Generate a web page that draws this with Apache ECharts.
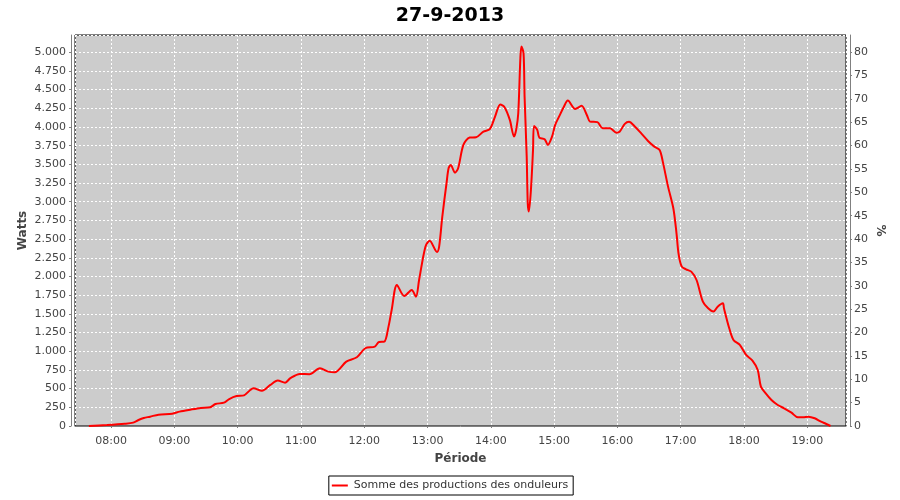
<!DOCTYPE html>
<html>
<head>
<meta charset="utf-8">
<script src="https://cdn.jsdelivr.net/npm/echarts@6/dist/echarts.min.js"></script>
<style>html,body{margin:0;padding:0;background:#fff}#c{width:900px;height:500px}</style>
</head>
<body>
<div id="c"></div>
<script>
const chartTitle = "27-9-2013";
const seriesName = "Somme des productions des onduleurs";
const times = ["07:39","07:56","08:13","08:21","08:26","08:31","08:37","08:45","08:58","09:05","09:15","09:25","09:34","09:39","09:47","09:52","09:59","10:06","10:12","10:15","10:23","10:31","10:38","10:45","10:50","10:59","11:08","11:18","11:26","11:32","11:43","11:53","12:01","12:10","12:14","12:19","12:23","12:26","12:31","12:38","12:45","12:49","12:52","12:58","13:02","13:09","13:11","13:14","13:18","13:20","13:22","13:26","13:29","13:34","13:40","13:46","13:53","13:59","14:04","14:09","14:13","14:18","14:22","14:24","14:26","14:28","14:29","14:31","14:32","14:34","14:35","14:36","14:38","14:40","14:41","14:44","14:46","14:51","14:54","14:58","15:01","15:05","15:09","15:13","15:20","15:26","15:31","15:34","15:41","15:46","15:53","15:59","16:02","16:07","16:11","16:16","16:23","16:29","16:35","16:40","16:43","16:48","16:53","16:56","16:58","17:01","17:05","17:10","17:15","17:21","17:26","17:31","17:35","17:40","17:41","17:46","17:50","17:56","18:02","18:08","18:13","18:16","18:20","18:26","18:32","18:38","18:45","18:51","18:56","19:01","19:07","19:13","19:18","19:22"];
const watts = [0,13,30,45,80,107,125,152,165,192,218,241,250,294,312,361,401,410,482,504,470,549,608,580,640,696,692,772,727,718,861,919,1040,1061,1124,1128,1329,1552,1887,1739,1820,1730,1953,2399,2479,2328,2399,2800,3247,3450,3492,3389,3448,3760,3858,3862,3938,3970,4139,4300,4264,4094,3871,3960,4184,4920,5076,4987,4406,3603,2980,2868,3158,3693,4014,3960,3858,3836,3760,3871,4027,4148,4264,4353,4241,4282,4161,4072,4064,3983,3983,3924,3935,4041,4068,4014,3907,3813,3737,3693,3536,3202,2913,2578,2300,2131,2096,2065,1953,1663,1574,1530,1596,1641,1574,1307,1151,1084,950,874,749,526,446,348,281,237,178,116,116,124,103,58,27,0];
const xRange = ["07:25:50","19:36:40"];
const wattMax = 5230;
const wattStep = 250;
const pctMax = 83.65;
const pctStep = 5;

function ts(s){const p=s.split(':').map(Number);return Date.UTC(2013,8,27,p[0],p[1],p[2]||0);}
function pad(n){return (n<10?'0':'')+n;}
function fmtW(v){return String(Math.round(v)).replace(/\B(?=(\d{3})+(?!\d))/g,'.');}

const data = times.map((t,i)=>[ts(t), watts[i]]);
const gridLine = {show:true,lineStyle:{color:'#ffffff',type:[2,2],width:1}};
const axisLineStyle = {show:true,lineStyle:{color:'#808080',width:1}};
const labelStyle = {color:'#444444',fontSize:11,fontFamily:'DejaVu Sans'};
const nameStyle = {color:'#444444',fontSize:12,fontWeight:'bold',fontFamily:'DejaVu Sans'};

const chart = echarts.init(document.getElementById('c'), null, {renderer:'canvas'});
chart.setOption({
  useUTC: true,
  animation: false,
  textStyle:{fontFamily:'DejaVu Sans'},
  title:{text:chartTitle,left:'center',top:2,textStyle:{fontSize:19,fontWeight:'bold',color:'#000',fontFamily:'DejaVu Sans'}},
  grid:{left:75,top:35,width:771,height:391,show:true,backgroundColor:'#cccccc',borderColor:'#000000',borderWidth:1,containLabel:false},
  legend:{
    data:[seriesName],left:'center',top:476,
    padding:[4,5,4,3],borderColor:'#000',borderWidth:1,borderRadius:0,
    icon:'rect',itemWidth:16,itemHeight:2,itemGap:5,
    textStyle:{fontSize:11,color:'#333',fontFamily:'DejaVu Sans',padding:[0,0,0,1]}
  },
  xAxis:{
    type:'time',min:ts(xRange[0]),max:ts(xRange[1]),
    minInterval:3600000,maxInterval:3600000,
    offset:4,
    axisLine:axisLineStyle,
    axisTick:{show:true,length:2,lineStyle:{color:'#808080'}},
    axisLabel:Object.assign({margin:6,showMinLabel:false,showMaxLabel:false,hideOverlap:false,
      formatter:function(v){const d=new Date(v);return pad(d.getUTCHours())+':'+pad(d.getUTCMinutes());}},labelStyle),
    splitLine:gridLine,
    name:'Période',nameLocation:'middle',nameGap:23,nameMoveOverlap:false,nameTextStyle:nameStyle
  },
  yAxis:[{
    type:'value',position:'left',min:0,max:wattMax,interval:wattStep,offset:4,
    axisLine:axisLineStyle,
    axisTick:{show:true,length:2,lineStyle:{color:'#808080'}},
    axisLabel:Object.assign({margin:5,showMaxLabel:false,formatter:fmtW},labelStyle),
    splitLine:gridLine,
    name:'Watts',nameLocation:'middle',nameGap:42,nameRotate:90,nameMoveOverlap:false,nameTextStyle:nameStyle
  },{
    type:'value',position:'right',min:0,max:pctMax,interval:pctStep,offset:4,
    axisLine:axisLineStyle,
    axisTick:{show:true,length:2,lineStyle:{color:'#808080'}},
    axisLabel:Object.assign({margin:4,showMaxLabel:false},labelStyle),
    splitLine:{show:false},
    name:'%',nameLocation:'middle',nameGap:24,nameRotate:-90,nameMoveOverlap:false,nameTextStyle:nameStyle
  }],
  series:[{
    name:seriesName,type:'line',yAxisIndex:0,data:data,
    showSymbol:false,symbol:'none',smooth:0.3,
    lineStyle:{color:'#ff0000',width:2},itemStyle:{color:'#ff0000'}
  }]
});
</script>
</body>
</html>
